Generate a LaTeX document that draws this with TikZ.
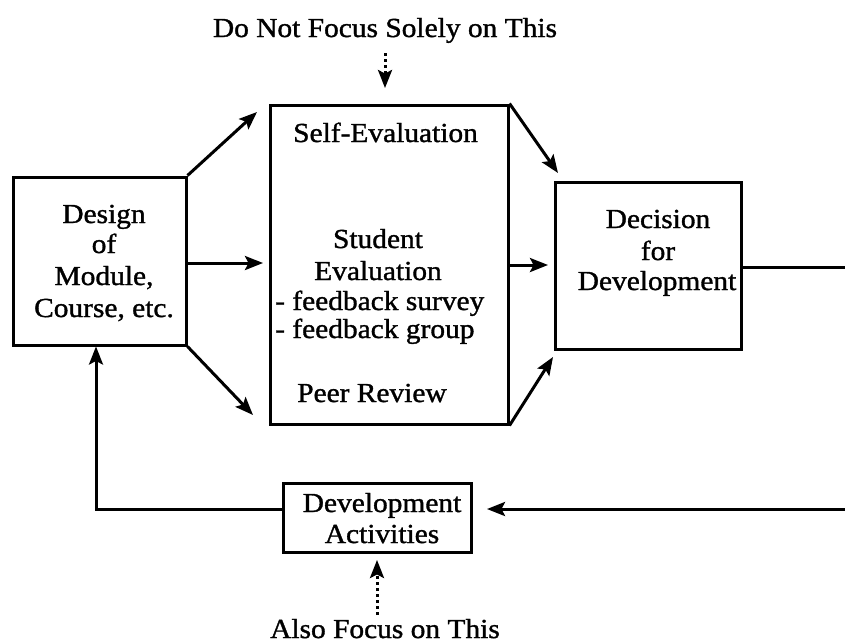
\documentclass[tikz,border=0pt]{standalone}
\usepackage{fontspec}
\setmainfont{Liberation Serif}[FakeStretch=1.07,FakeBold=1.2]
\usetikzlibrary{arrows.meta}
\begin{document}
\begin{tikzpicture}[x=1pt,y=-1pt,
  box/.style 2 args={draw, line width=3pt, minimum width=#1, minimum height=#2, inner sep=0pt},
  txt/.style={anchor=base, font=\fontsize{27.5}{31}\selectfont, inner sep=0pt},
  txtw/.style={txt, anchor=base west},
  arr/.style={line width=3pt, -{Stealth[length=18pt,width=14pt,inset=3.5pt]}},
  dotarr/.style={line width=3pt, dash pattern=on 3pt off 3pt, -{Stealth[length=18pt,width=14pt,inset=3.5pt]}}]
\useasboundingbox (0,0) rectangle (845,643);
% boxes
\node[box={173pt}{168pt}] (design) at (99.5,261) {};
\node[box={238pt}{319pt}] (mid) at (389,264.5) {};
\node[box={186pt}{167pt}] (dec) at (648,265.5) {};
\node[box={188pt}{69pt}] (dev) at (377,517.5) {};
% texts
\node[txt] (top) at (385,37) {Do Not Focus Solely on This};
\node[txt] (bot) at (385,638) {Also Focus on This};
\node[txt] (d1) at (104,223) {Design};
\node[txt] (d2) at (104,253) {of};
\node[txt] (d3) at (104,285) {Module,};
\node[txt] (d4) at (104,317) {Course, etc.};
\node[txtw] (m1) at (293,142) {Self-Evaluation};
\node[txt] (m2) at (378,248) {Student};
\node[txt] (m3) at (378,280) {Evaluation};
\node[txtw] (m4) at (275,310) {- feedback survey};
\node[txtw] (m5) at (275,338) {- feedback group};
\node[txtw] (m6) at (297,402) {Peer Review};
\node[txt] (e1) at (658,228) {Decision};
\node[txt] (e2) at (658,260) {for};
\node[txt] (e3) at (657,290) {Development};
\node[txt] (a1) at (382,512) {Development};
\node[txt] (a2) at (382,543) {Activities};
% free ends
\coordinate (t1) at (257,112);
\coordinate (t2) at (263,263);
\coordinate (t3) at (253,415);
\coordinate (u1) at (558,173);
\coordinate (u2) at (548,265);
\coordinate (u3) at (553,357);
\coordinate (tp) at (385,88);
\coordinate (tps) at (385,53);
\coordinate (bp) at (377,560);
\coordinate (bps) at (377,615);
\coordinate (r1) at (870,267);
\coordinate (r2) at (870,509);
\coordinate (rt) at (487,509);
\coordinate (c1) at (96,509);
% connectors
\draw[arr] (design.north east) -- (t1);
\draw[arr] (design.east |- t2) -- (t2);
\draw[arr] (design.south east) -- (t3);
\draw[arr] (mid.north east) -- (u1);
\draw[arr] (mid.east |- u2) -- (u2);
\draw[arr] (mid.south east) -- (u3);
\draw[arr] (dec.east |- r1) -- (r1) -- (r2) -- (rt);
\draw[arr] (dev.west |- c1) -- (c1) -- (c1 |- design.south);
\draw[dotarr] (tps) -- (tp);
\draw[dotarr] (bps) -- (bp);
\end{tikzpicture}
\end{document}
